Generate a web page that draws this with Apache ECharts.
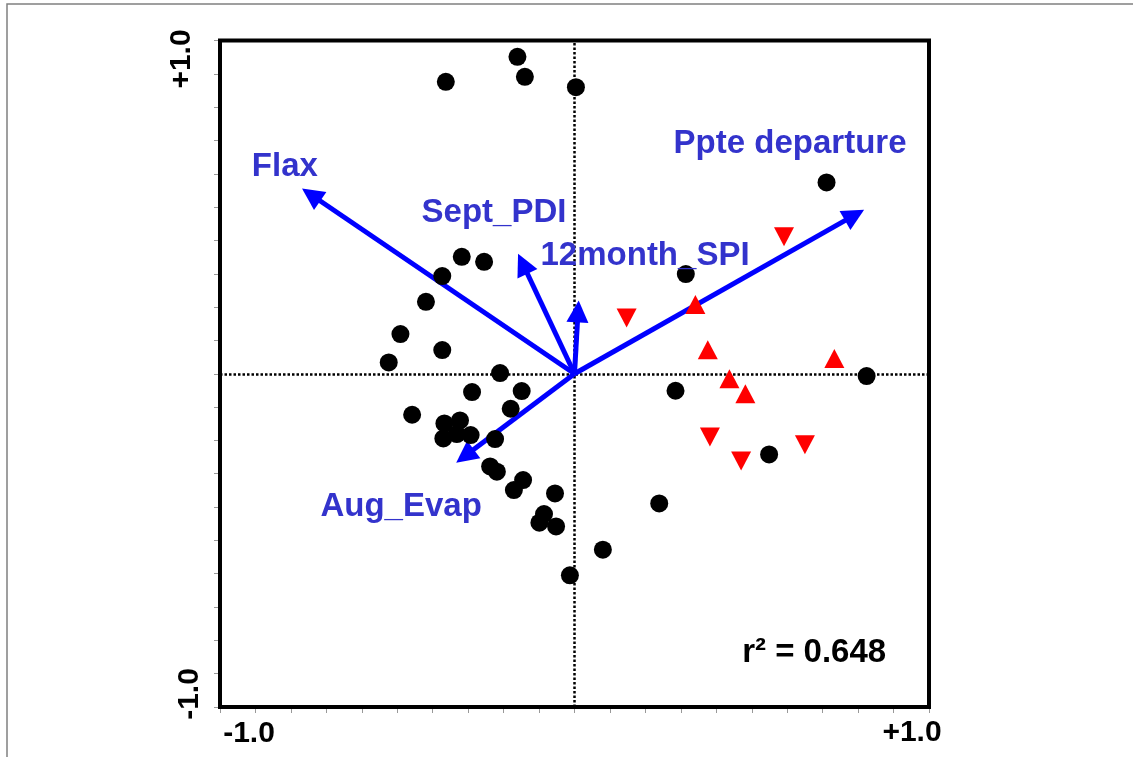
<!DOCTYPE html>
<html>
<head>
<meta charset="utf-8">
<title>RDA biplot</title>
<script src="https://cdn.jsdelivr.net/npm/echarts@6/dist/echarts.min.js"></script>
<style>
  html, body { margin: 0; padding: 0; background: #fff; }
  #main { width: 1133px; height: 757px; }
</style>
</head>
<body>
<div id="main"></div>
<script>
// site scores (black dots)
const sites = [
  [-0.161, 0.951], [-0.140, 0.891], [-0.363, 0.876], [0.004, 0.860],
  [0.711, 0.574], [0.314, 0.299], [-0.318, 0.351], [-0.255, 0.336],
  [-0.373, 0.293], [-0.419, 0.216], [-0.491, 0.119], [-0.373, 0.071],
  [-0.524, 0.034], [-0.210, 0.002], [0.824, -0.007], [-0.289, -0.055],
  [-0.149, -0.052], [-0.180, -0.105], [0.285, -0.051], [-0.458, -0.123],
  [-0.367, -0.149], [-0.323, -0.140], [-0.370, -0.194], [-0.332, -0.181],
  [-0.293, -0.184], [-0.224, -0.196], [-0.238, -0.278], [-0.219, -0.294],
  [-0.145, -0.319], [-0.171, -0.349], [-0.055, -0.359], [-0.086, -0.421],
  [-0.099, -0.447], [-0.052, -0.458], [0.080, -0.528], [-0.013, -0.605],
  [0.549, -0.242], [0.239, -0.389]
]
// red triangles
const upSites = [
  [0.341, 0.208], [0.376, 0.072], [0.437, -0.015], [0.482, -0.060], [0.733, 0.046]
]
const downSites = [
  [0.591, 0.411], [0.147, 0.167], [0.382, -0.190], [0.470, -0.262], [0.650, -0.213]
]

// environmental vectors
const vectorNames = ['Flax', 'Sept_PDI', '12month_SPI', 'Ppte departure', 'Aug_Evap']
const vectorEnds = [[-0.743, 0.537], [-0.146, 0.330], [0.010, 0.187], [0.790, 0.476], [-0.309, -0.247]]
const vectorLabelAt = [[-0.817, 0.622], [-0.227, 0.483], [0.199, 0.354], [0.608, 0.689], [-0.489, -0.400]]

const fitText = 'r\u00b2 = 0.648'
const fitAt = [0.676, -0.838]

const xTickLabels = ['-1.0', '+1.0']
const yTickLabels = ['-1.0', '+1.0']

const FONT = '"Liberation Sans", Arial, sans-serif'
const BLUE_TEXT = '#3333cc'

const labelData = vectorNames.map((n, i) => ({ name: n, value: vectorLabelAt[i] }))
labelData.push({ name: fitText, value: fitAt, label: { color: '#000' } })

const dotted = { color: '#000', type: [2.5, 2], width: 2.5, opacity: 1 }

const chart = echarts.init(document.getElementById('main'))

chart.setOption({
  animation: false,
  grid: {
    left: 220, top: 40.5, width: 709, height: 666.5,
    show: true, borderColor: '#000', borderWidth: 4, backgroundColor: 'transparent'
  },
  xAxis: {
    type: 'value', min: -1, max: 1, interval: 0.1, offset: 2,
    axisLine: { show: false, onZero: false },
    axisTick: { show: true, length: 4, lineStyle: { color: '#999', width: 1 } },
    axisLabel: { show: false },
    splitLine: { show: false }
  },
  yAxis: {
    type: 'value', min: -1, max: 1, interval: 0.1, offset: 2,
    axisLine: { show: false, onZero: false },
    axisTick: { show: true, length: 4, lineStyle: { color: '#999', width: 1 } },
    axisLabel: { show: false },
    splitLine: { show: false }
  },
  graphic: [
    { type: 'polyline', shape: { points: [[7, 757], [7, 4], [1133, 4]] },
      style: { stroke: '#808080', lineWidth: 1.5, fill: null }, silent: true },
    { type: 'text', x: 249, y: 734,
      style: { text: xTickLabels[0], fontSize: 30, fontWeight: 'bold', fontFamily: FONT, fill: '#000', align: 'center', verticalAlign: 'middle' } },
    { type: 'text', x: 912, y: 733,
      style: { text: xTickLabels[1], fontSize: 30, fontWeight: 'bold', fontFamily: FONT, fill: '#000', align: 'center', verticalAlign: 'middle' } },
    { type: 'text', x: 190, y: 694, rotation: Math.PI / 2,
      style: { text: yTickLabels[0], fontSize: 30, fontWeight: 'bold', fontFamily: FONT, fill: '#000', align: 'center', verticalAlign: 'middle' } },
    { type: 'text', x: 182, y: 59, rotation: Math.PI / 2,
      style: { text: yTickLabels[1], fontSize: 30, fontWeight: 'bold', fontFamily: FONT, fill: '#000', align: 'center', verticalAlign: 'middle' } }
  ],
  series: [
    {
      // dotted cross through the origin
      type: 'scatter', data: [], silent: true,
      markLine: {
        silent: true, z: 1, symbol: 'none', label: { show: false },
        lineStyle: dotted,
        data: [{ xAxis: 0, lineStyle: dotted }, { yAxis: 0, lineStyle: dotted }]
      }
    },
    {
      // arrows
      type: 'scatter', data: [], silent: true,
      markLine: {
        silent: true, z: 2, symbol: ['none', 'triangle'], symbolSize: 22,
        label: { show: false },
        lineStyle: { color: '#0000ff', type: 'solid', width: 5, opacity: 1 },
        emphasis: { disabled: true },
        data: vectorEnds.map(e => [{ coord: [0, 0] }, { coord: e }])
      }
    },
    {
      type: 'scatter', z: 10, silent: true,
      symbol: 'circle', symbolSize: 18,
      itemStyle: { color: '#000', opacity: 1 },
      data: sites
    },
    {
      type: 'scatter', z: 10, silent: true,
      symbol: 'triangle', symbolSize: [20, 19],
      itemStyle: { color: '#ff0000', opacity: 1 },
      data: upSites
    },
    {
      type: 'scatter', z: 10, silent: true,
      symbol: 'triangle', symbolSize: [20, 19], symbolRotate: 180,
      itemStyle: { color: '#ff0000', opacity: 1 },
      data: downSites
    },
    {
      // vector names and fit
      type: 'scatter', z: 11, silent: true,
      symbolSize: 0,
      itemStyle: { opacity: 1 },
      label: {
        show: true, position: 'inside', formatter: '{b}', opacity: 1,
        color: BLUE_TEXT, fontSize: 33, fontWeight: 'bold', fontFamily: FONT
      },
      data: labelData
    }
  ]
})
</script>
</body>
</html>
